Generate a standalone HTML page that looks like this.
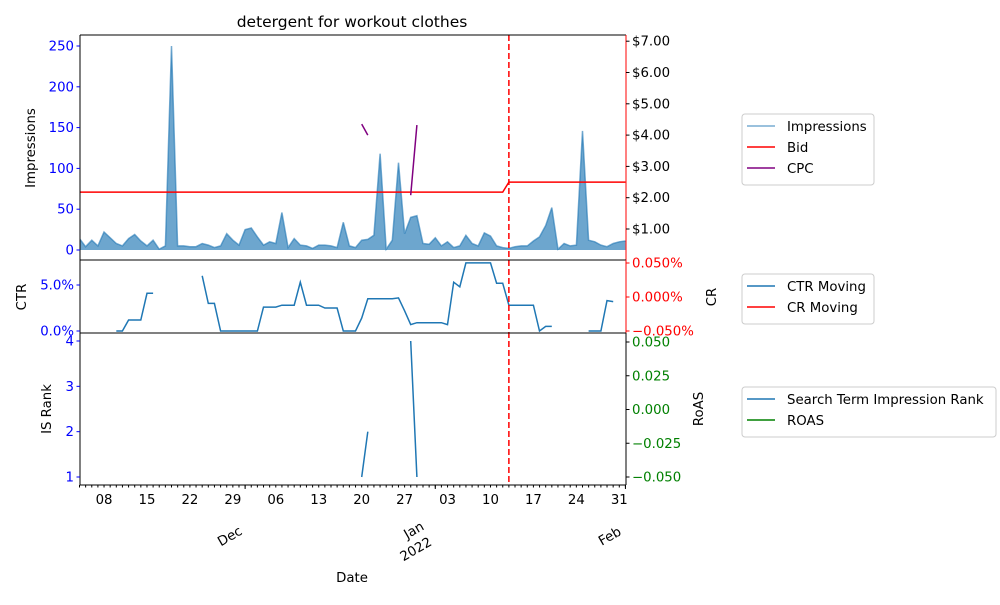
<!DOCTYPE html>
<html><head><meta charset="utf-8"><style>
body{margin:0;background:#fff;}
svg{font-family:"DejaVu Sans","Liberation Sans",sans-serif;}
</style></head><body>
<svg id="c" width="1000" height="600" xmlns="http://www.w3.org/2000/svg"></svg>
<script>
const startDate = "2021-11-04";
const impressions = [14,4,12,5,22,15,8,5,14,19,11,5,12,1,5,250,5,5,4,4,8,6,3,5,20,12,6,25,27,16,6,10,8,46,3,14,6,5,2,6,6,5,3,34,5,3,12,13,18,118,1,12,107,20,40,42,8,7,15,5,10,3,5,18,8,5,21,17,5,3,2,4,5,5,11,16,30,52,1,8,5,6,146,12,10,6,4,8,10,11];
const bid = [];
for (let i=0;i<90;i++) bid.push(i<70?2.18:2.50);
const cpc = new Array(90).fill(null);
cpc[46]=4.35; cpc[47]=4.0; cpc[54]=2.08; cpc[55]=4.32;
const ctr = [null,null,null,null,null,null,0,0,1.2,1.2,1.2,4.1,4.1,null,null,null,null,null,null,null,6.0,3.0,3.0,0,0,0,0,0,0,0,2.6,2.6,2.6,2.8,2.8,2.8,5.3,2.8,2.8,2.8,2.5,2.5,2.5,0,0,0,1.4,3.5,3.5,3.5,3.5,3.5,3.6,2.2,0.7,0.9,0.9,0.9,0.9,0.9,0.7,5.3,4.8,7.4,7.4,7.4,7.4,7.4,5.2,5.2,2.8,2.8,2.8,2.8,2.8,0,0.5,0.5,null,null,null,null,null,0,0,0,3.3,3.2];
const isRank = new Array(90).fill(null);
isRank[46]=1; isRank[47]=2; isRank[54]=4; isRank[55]=1;
const dayLabels = [[4,"08"],[11,"15"],[18,"22"],[25,"29"],[32,"06"],[39,"13"],[46,"20"],[53,"27"],[60,"03"],[67,"10"],[74,"17"],[81,"24"],[88,"31"]];
const monthTicks = [27,58,89];
const impTicks = [0,50,100,150,200,250];
const bidTicks = [1,2,3,4,5,6,7];
const ctrTicks = [0,5];
const crTicks = [0.05,0,-0.05];
const rankTicks = [1,2,3,4];
const roasTicks = [0.05,0.025,0,-0.025,-0.05];
const cutoffDay = 70;

const svg=document.getElementById('c');
const NS="http://www.w3.org/2000/svg";
function el(t,a,p){const e=document.createElementNS(NS,t);for(const k in a)e.setAttribute(k,a[k]);(p||svg).appendChild(e);return e;}
function tx(x,y,s,a){const e=el('text',Object.assign({x:x,y:y,'font-size':13.3,fill:'#000'},a||{}));e.textContent=s;return e;}
const X0=80,X1=626;
const xs=i=>79.5+i*6.134;
const yImp=v=>250-v*0.816;
const yBid=v=>260.3-v*31.3;
const yCtr=v=>331-v*9.2;
const yCr=v=>297-v*680;
const yRank=v=>477-(v-1)*45.33;
const yRoas=v=>409.5-v*1350;

function path(arr,fx,fy,attrs,name){
  let d='',pen=false;
  arr.forEach((v,i)=>{if(v===null){pen=false;return;}d+=(pen?'L':'M')+fx(i).toFixed(1)+','+fy(v).toFixed(1);pen=true;});
  const p=el('path',Object.assign({d:d,fill:'none'},attrs));
  
  
  return p;
}
const defs=el('defs',{});
const cp=el('clipPath',{id:'cl'},defs);el('rect',{x:X0,y:35,width:X1-X0,height:450},cp);
const g=el('g',{'clip-path':'url(#cl)'});

let ad='M'+xs(0)+','+yImp(0);
impressions.forEach((v,i)=>{ad+='L'+xs(i).toFixed(1)+','+yImp(v).toFixed(1);});
ad+='L'+xs(89)+','+yImp(0)+'Z';
const area=el('path',{d:ad,fill:'#1f77b4','fill-opacity':0.65},g);


g.appendChild(path(impressions,xs,yImp,{stroke:'#1f77b4','stroke-opacity':0.6,'stroke-width':1.5},'impressions-line'));
g.appendChild(path(bid,xs,yBid,{stroke:'#ff0000','stroke-width':1.5},'bid-line'));
g.appendChild(path(cpc,xs,yBid,{stroke:'#800080','stroke-width':1.5},'cpc-line'));
g.appendChild(path(ctr,xs,yCtr,{stroke:'#1f77b4','stroke-width':1.5},'ctr-moving-line'));
g.appendChild(path(isRank,xs,yRank,{stroke:'#1f77b4','stroke-width':1.5},'is-rank-line'));
const vl=el('line',{x1:xs(cutoffDay),x2:xs(cutoffDay),y1:35,y2:485,stroke:'#ff0000','stroke-width':1.5,'stroke-dasharray':'6,3'});


[[35,260],[260,333],[333,485]].forEach(([a,b],k)=>{
  el('line',{x1:X0,x2:X0,y1:a,y2:b,stroke:'#000'});
  el('line',{x1:X0,x2:X1,y1:a,y2:a,stroke:'#000'});
  el('line',{x1:X0,x2:X1,y1:b,y2:b,stroke:'#000'});
  el('line',{x1:X1,x2:X1,y1:a,y2:b,stroke:k<2?'#ff0000':'#000'});
});
function lt(y,c,s){el('line',{x1:X0-3.5,x2:X0,y1:y,y2:y,stroke:c});tx(X0-6,y+4.5,s,{'text-anchor':'end',fill:c});}
function rt(y,c,s){el('line',{x1:X1,x2:X1+3.5,y1:y,y2:y,stroke:c=='#008000'?'#000':c});tx(X1+6,y+4.5,s,{fill:c});}
impTicks.forEach(v=>lt(yImp(v),'#0000ff',String(v)));
bidTicks.forEach(v=>rt(yBid(v),'#000','$'+v.toFixed(2)));
ctrTicks.forEach(v=>lt(yCtr(v),'#0000ff',v.toFixed(1)+'%'));
crTicks.forEach(v=>rt(yCr(v),'#ff0000',(v<0?'\u22120.050':v.toFixed(3))+'%'));
rankTicks.forEach(v=>lt(yRank(v),'#0000ff',String(v)));
roasTicks.forEach(v=>rt(yRoas(v),'#008000',(v<0?'\u2212'+(-v).toFixed(3):v.toFixed(3))));
for(let i=0;i<90;i++){el('line',{x1:xs(i),x2:xs(i),y1:485,y2:487.5,stroke:'#000'});}
monthTicks.forEach(i=>el('line',{x1:xs(i),x2:xs(i),y1:485,y2:489,stroke:'#000'}));
dayLabels.forEach(([i,s])=>tx(xs(i),504,s,{'text-anchor':'middle'}));
tx(232,540,'Dec',{transform:'rotate(-30 232 540)','text-anchor':'middle'});
tx(416,534,'Jan',{transform:'rotate(-30 416 534)','text-anchor':'middle'});
tx(418,553,'2022',{transform:'rotate(-30 418 553)','text-anchor':'middle'});
tx(612,540,'Feb',{transform:'rotate(-30 612 540)','text-anchor':'middle'});
tx(352,582,'Date',{'text-anchor':'middle'});
tx(352,27,'detergent for workout clothes',{'text-anchor':'middle','font-size':15.5});
tx(35,148,'Impressions',{transform:'rotate(-90 35 148)','text-anchor':'middle'});
tx(26,297,'CTR',{transform:'rotate(-90 26 297)','text-anchor':'middle'});
tx(51,409,'IS Rank',{transform:'rotate(-90 51 409)','text-anchor':'middle'});
tx(716,297,'CR',{transform:'rotate(-90 716 297)','text-anchor':'middle'});
tx(703,409,'RoAS',{transform:'rotate(-90 703 409)','text-anchor':'middle'});
function legend(x,y,w,items,name){
  const lg=el('g',{});
  el('rect',{x:x,y:y,width:w,height:items.length*21+8,rx:3,fill:'#fff',stroke:'#ccc'},lg);
  items.forEach(([c,s,op],k)=>{const yy=y+12+k*21;
    el('line',{x1:x+5,x2:x+33,y1:yy,y2:yy,stroke:c,'stroke-width':1.5,'stroke-opacity':op||1},lg);
    const t=el('text',{x:x+45,y:yy+5,'font-size':13.3,fill:'#000'},lg);t.textContent=s;});
}
legend(742,114,132,[['#1f77b4','Impressions',0.6],['#ff0000','Bid'],['#800080','CPC']],'legend-top');
legend(742,274,132,[['#1f77b4','CTR Moving'],['#ff0000','CR Moving']],'legend-middle');
legend(742,387,254,[['#1f77b4','Search Term Impression Rank'],['#008000','ROAS']],'legend-bottom');
</script>
</body></html>
